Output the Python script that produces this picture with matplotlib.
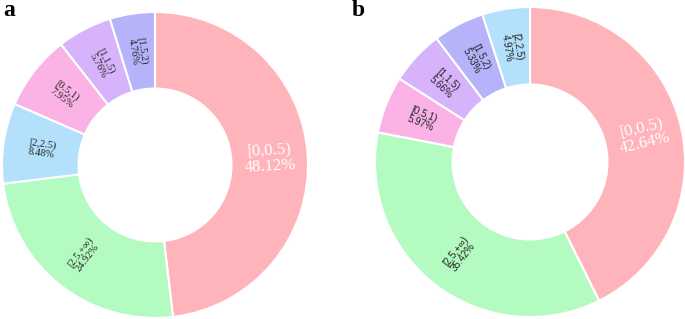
import numpy as np
import matplotlib
matplotlib.use("Agg")
import matplotlib.pyplot as plt

# Data
cats_a = ["[0,0.5)", "[2.5,+∞)", "[2,2.5)", "[0.5,1)", "[1,1.5)", "[1.5,2)"]
vals_a = [48.12, 24.92, 8.48, 7.95, 5.76, 4.76]
cats_b = ["[0,0.5)", "[2.5,+∞)", "[0.5,1)", "[1,1.5)", "[1.5,2)", "[2,2.5)"]
vals_b = [42.64, 35.42, 5.97, 5.66, 5.33, 4.97]

color_map = {
    "[0,0.5)": "#FFB3BA",
    "[2.5,+∞)": "#B3FBC0",
    "[2,2.5)": "#B3E0FB",
    "[0.5,1)": "#FBB3E6",
    "[1,1.5)": "#D6B3FB",
    "[1.5,2)": "#B6B3FB",
}

W, H = 685, 319
fig = plt.figure(figsize=(W / 100, H / 100), dpi=100)


def donut(rect, cats, vals, small_family, small_size, big_size, letter, letter_xy):
    ax = fig.add_axes(rect)
    wedges, _ = ax.pie(vals, startangle=90, counterclock=False,
                       colors=[color_map[c] for c in cats],
                       wedgeprops=dict(width=0.5, edgecolor="white", linewidth=1.5),
                       radius=1.0)
    ax.set_xlim(-1, 1)
    ax.set_ylim(-1, 1)
    ax.set_aspect("equal")
    ax.axis("off")
    for i, (w, c, v) in enumerate(zip(wedges, cats, vals)):
        mid = (w.theta1 + w.theta2) / 2.0
        r = 0.75
        x = r * np.cos(np.deg2rad(mid))
        y = r * np.sin(np.deg2rad(mid))
        ang = ((mid + 180) % 360) - 180
        if -90 <= ang <= 90:
            rot = ang
        else:
            rot = ang - 180 if ang > 0 else ang + 180
        label = f"{c}\n{v:.2f}%"
        if i == 0:
            ax.text(x, y, label, ha="center", va="center", rotation=rot,
                    rotation_mode="anchor", fontsize=big_size, color="white",
                    family=["Liberation Serif", "DejaVu Serif"], linespacing=1.0)
        else:
            ax.text(x, y, label, ha="center", va="center", rotation=rot,
                    rotation_mode="anchor", fontsize=small_size, color="#222222",
                    family=small_family, linespacing=1.0)
    fig.text(letter_xy[0] / W, 1 - letter_xy[1] / H, letter, fontsize=17,
             fontweight="bold", family=["Liberation Serif", "DejaVu Serif"],
             ha="left", va="top")
    return ax


donut([2 / W, 1 / H, 306 / W, 306 / H], cats_a, vals_a,
      ["Liberation Serif", "DejaVu Serif"], 7.5, 12, "a", (3, 0))
donut([375 / W, 2 / H, 310 / W, 310 / H], cats_b, vals_b,
      ["Liberation Sans", "DejaVu Sans"], 7.0, 12, "b", (352, 0))

fig.savefig("out.png", dpi=100)
